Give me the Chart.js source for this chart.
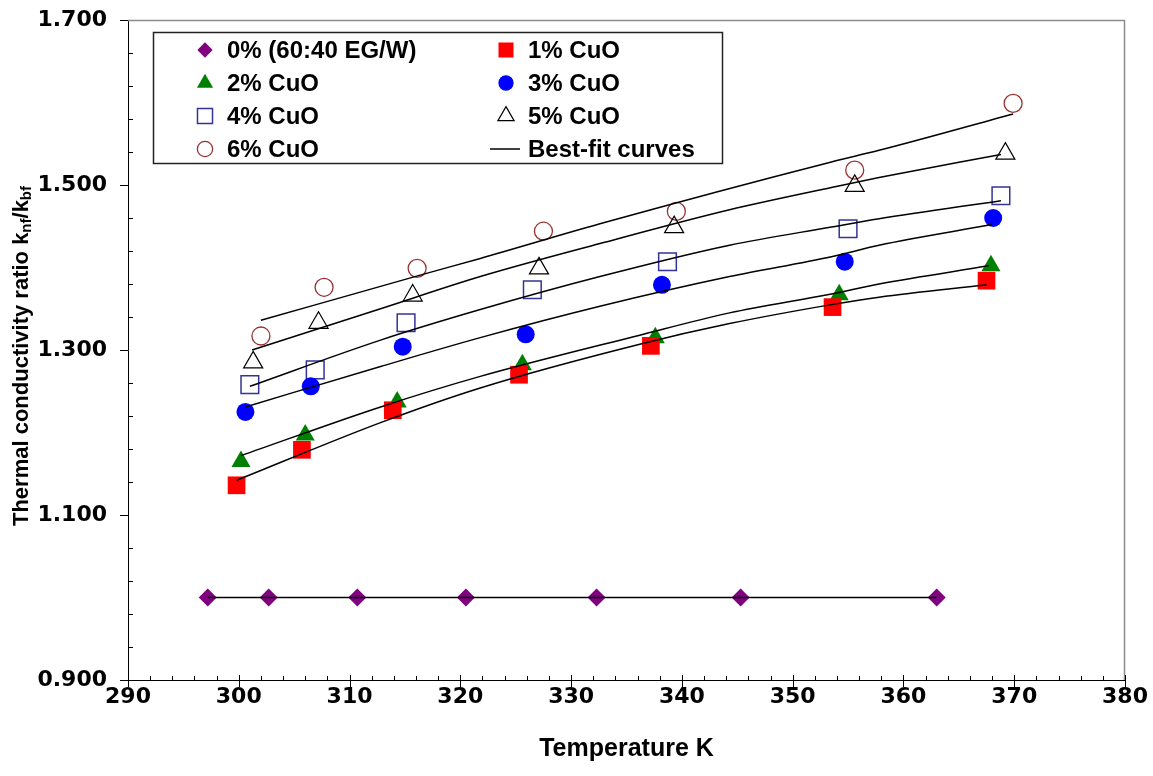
<!DOCTYPE html>
<html>
<head>
<meta charset="utf-8">
<script src="https://cdn.jsdelivr.net/npm/chart.js@4.4.1/dist/chart.umd.min.js"></script>
<style>
  html, body { margin: 0; padding: 0; background: #fff; }
  #wrap { width: 1153px; height: 776px; }
</style>
</head>
<body>
<div id="wrap"><canvas id="chart" width="1153" height="776"></canvas></div>
<script>
// ---------- Data ----------
// base fluid 60:40 EG/W
const tempBase = [297.2, 302.7, 310.7, 320.5, 332.3, 345.3, 363.0];
const ratioBase = [1.000, 1.000, 1.000, 1.000, 1.000, 1.000, 1.000];

// measured points, per CuO volume fraction
const temp1 = [299.8, 305.7, 313.9, 325.3, 337.2, 353.6, 367.5];
const ratio1 = [1.136, 1.179, 1.227, 1.270, 1.305, 1.352, 1.384];
const temp2 = [300.2, 306.0, 314.3, 325.6, 337.6, 354.2, 367.9];
const ratio2 = [1.165, 1.197, 1.237, 1.282, 1.315, 1.367, 1.402];
const temp3 = [300.6, 306.5, 314.8, 325.9, 338.2, 354.7, 368.1];
const ratio3 = [1.225, 1.256, 1.304, 1.319, 1.379, 1.407, 1.460];
const temp4 = [301.0, 306.9, 315.1, 326.5, 338.7, 355.0, 368.8];
const ratio4 = [1.258, 1.276, 1.333, 1.373, 1.407, 1.447, 1.487];
const temp5 = [301.3, 307.2, 315.7, 327.1, 339.3, 355.6, 369.2];
const ratio5 = [1.285, 1.333, 1.366, 1.399, 1.449, 1.499, 1.538];
const temp6 = [302.0, 307.7, 316.1, 327.5, 339.5, 355.6, 369.9];
const ratio6 = [1.317, 1.376, 1.399, 1.444, 1.468, 1.518, 1.599];

// best-fit curves
const fitTemp1 = [299.8, 312.8, 321.8, 336.2, 344.3, 353.5, 357.8, 367.5];
const fitRatio1 = [1.142, 1.212, 1.254, 1.307, 1.332, 1.355, 1.364, 1.379];
const fitTemp2 = [300.2, 312.8, 321.8, 336.2, 344.3, 353.5, 357.8, 367.7];
const fitRatio2 = [1.172, 1.231, 1.268, 1.318, 1.345, 1.368, 1.380, 1.402];
const fitTemp3 = [300.6, 312.8, 321.8, 332.6, 344.3, 353.5, 357.8, 368.0];
const fitRatio3 = [1.231, 1.280, 1.315, 1.353, 1.389, 1.413, 1.427, 1.452];
const fitTemp4 = [301.0, 312.8, 321.8, 332.6, 344.3, 353.5, 357.8, 368.8];
const fitRatio4 = [1.256, 1.312, 1.349, 1.389, 1.427, 1.449, 1.459, 1.481];
const fitTemp5 = [301.2, 312.8, 321.8, 332.6, 344.3, 353.5, 357.8, 368.8];
const fitRatio5 = [1.300, 1.350, 1.389, 1.429, 1.470, 1.497, 1.509, 1.537];
const fitTemp6 = [302.0, 316.7, 321.8, 332.6, 353.5, 357.8, 369.9];
const fitRatio6 = [1.336, 1.392, 1.411, 1.453, 1.528, 1.542, 1.586];

const seriesLabels = ["0% (60:40 EG/W)", "1% CuO", "2% CuO", "3% CuO", "4% CuO", "5% CuO", "6% CuO"];
const fitLabel = "Best-fit curves";

const xTicksMin = 290, xTicksMax = 380;
const yTicksMin = 0.9, yTicksMax = 1.7;

// ---------- Helpers ----------
const pts = (xs, ys) => xs.map((x, i) => ({ x: x, y: ys[i] }));

function markerSet(label, xs, ys, style, radius, fill, stroke, bw) {
  return {
    label: label,
    data: pts(xs, ys),
    showLine: false,
    pointStyle: style,
    pointRadius: radius,
    pointHoverRadius: radius,
    pointBackgroundColor: fill,
    pointBorderColor: stroke,
    pointBorderWidth: bw,
    order: 1,
  };
}

function fitSet(xs, ys) {
  return {
    label: fitLabel,
    data: pts(xs, ys),
    showLine: true,
    borderColor: "#000",
    borderWidth: 1.5,
    pointRadius: 0,
    cubicInterpolationMode: "monotone",
    order: 0,
  };
}

const markers = [
  markerSet(seriesLabels[0], tempBase, ratioBase, "rectRot", 9, "#800080", "#800080", 0),
  markerSet(seriesLabels[1], temp1, ratio1, "rect", 12.5, "#ff0000", "#ff0000", 0),
  markerSet(seriesLabels[2], temp2, ratio2, "triangle", 11, "#008000", "#008000", 0),
  markerSet(seriesLabels[3], temp3, ratio3, "circle", 9, "#0000ff", "#0000ff", 0),
  markerSet(seriesLabels[4], temp4, ratio4, "rect", 12.5, "rgba(0,0,0,0)", "#333399", 1.5),
  markerSet(seriesLabels[5], temp5, ratio5, "triangle", 11, "rgba(0,0,0,0)", "#000000", 1.2),
  markerSet(seriesLabels[6], temp6, ratio6, "circle", 9, "rgba(0,0,0,0)", "#993333", 1.3),
];

const fits = [
  fitSet(tempBase, ratioBase),
  fitSet(fitTemp1, fitRatio1),
  fitSet(fitTemp2, fitRatio2),
  fitSet(fitTemp3, fitRatio3),
  fitSet(fitTemp4, fitRatio4),
  fitSet(fitTemp5, fitRatio5),
  fitSet(fitTemp6, fitRatio6),
];

const isMajorX = (v) => Math.abs(v / 10 - Math.round(v / 10)) < 1e-6;
const isMajorY = (v) => {
  const k = (v - yTicksMin) / 0.2;
  return Math.abs(k - Math.round(k)) < 1e-6;
};

// ---------- Plugins ----------
// grey frame on top/right of plot area
const framePlugin = {
  id: "frame",
  beforeDatasetsDraw(chart) {
    const { ctx, chartArea: a } = chart;
    ctx.save();
    ctx.strokeStyle = "#8c8c8c";
    ctx.lineWidth = 1.5;
    ctx.beginPath();
    ctx.moveTo(a.left, a.top + 0.5);
    ctx.lineTo(a.right - 0.5, a.top + 0.5);
    ctx.lineTo(a.right - 0.5, a.bottom);
    ctx.stroke();
    ctx.restore();
  },
};

// major/minor tick marks like the Excel original
const tickPlugin = {
  id: "tickMarks",
  afterDraw(chart) {
    const { ctx } = chart;
    const xs = chart.scales.x, ys = chart.scales.y;
    ctx.save();
    ctx.strokeStyle = "#000";
    ctx.lineWidth = 1;
    ctx.beginPath();
    xs.ticks.forEach((t) => {
      const px = Math.round(xs.getPixelForValue(t.value)) + 0.5;
      const major = isMajorX(t.value);
      ctx.moveTo(px, xs.top - (major ? 5 : 4));
      ctx.lineTo(px, xs.top + (major ? 7 : 0));
    });
    ys.ticks.forEach((t) => {
      const py = Math.round(ys.getPixelForValue(t.value)) + 0.5;
      if (isMajorY(t.value)) {
        ctx.moveTo(ys.right - 8, py);
        ctx.lineTo(ys.right, py);
      } else {
        ctx.moveTo(ys.right, py);
        ctx.lineTo(ys.right + 5, py);
      }
    });
    ctx.stroke();
    ctx.restore();
  },
};

// y title with subscripts
const yTitlePlugin = {
  id: "yTitle",
  afterDraw(chart) {
    const { ctx } = chart;
    const big = "bold 22px 'Liberation Sans', Arial, sans-serif";
    const small = "bold 15px 'Liberation Sans', Arial, sans-serif";
    const parts = [
      { t: "Thermal conductivity ratio k", f: big, dy: 0 },
      { t: "nf", f: small, dy: 5 },
      { t: "/k", f: big, dy: 0 },
      { t: "bf", f: small, dy: 5 },
    ];
    ctx.save();
    let total = 0;
    parts.forEach((p) => { ctx.font = p.f; p.w = ctx.measureText(p.t).width; total += p.w; });
    ctx.translate(22, 356);
    ctx.rotate(-Math.PI / 2);
    ctx.fillStyle = "#000";
    ctx.textBaseline = "middle";
    let x = -total / 2;
    parts.forEach((p) => {
      ctx.font = p.f;
      ctx.fillText(p.t, x, p.dy);
      x += p.w;
    });
    ctx.restore();
  },
};

// boxed two-column legend inside the plot
const legendPlugin = {
  id: "boxLegend",
  afterDraw(chart) {
    const { ctx } = chart;
    const box = { left: 153, top: 32, right: 722, bottom: 163 };
    const rows = [50, 83, 116, 149];
    const cols = [{ mark: 205, text: 227 }, { mark: 506, text: 528 }];
    ctx.save();
    ctx.fillStyle = "#fff";
    ctx.fillRect(box.left, box.top, box.right - box.left, box.bottom - box.top);
    ctx.strokeStyle = "#222";
    ctx.lineWidth = 1.5;
    ctx.strokeRect(box.left + 0.5, box.top + 0.5, box.right - box.left, box.bottom - box.top);
    ctx.font = "bold 24px 'Liberation Sans', Arial, sans-serif";
    ctx.textBaseline = "middle";
    const entries = markers.map((d) => d).concat([null]);
    entries.forEach((d, i) => {
      const row = rows[Math.floor(i / 2)];
      const col = cols[i % 2];
      if (d) {
        const r = d.pointRadius * 0.85;
        ctx.fillStyle = d.pointBackgroundColor;
        ctx.strokeStyle = d.pointBorderColor;
        ctx.lineWidth = d.pointBorderWidth;
        Chart.helpers.drawPoint(ctx, { pointStyle: d.pointStyle, radius: r, rotation: 0, borderWidth: d.pointBorderWidth }, col.mark, row);
      } else {
        ctx.strokeStyle = "#000";
        ctx.lineWidth = 1.5;
        ctx.beginPath();
        ctx.moveTo(col.mark - 16, row);
        ctx.lineTo(col.mark + 14, row);
        ctx.stroke();
      }
      ctx.fillStyle = "#000";
      ctx.fillText(d ? d.label : fitLabel, col.text, row + 1);
    });
    ctx.restore();
  },
};

// ---------- Chart ----------
const tickFont = { family: "'DejaVu Sans', sans-serif", size: 22, weight: "bold" };

new Chart(document.getElementById("chart"), {
  type: "scatter",
  data: { datasets: fits.concat(markers) },
  options: {
    responsive: false,
    animation: false,
    devicePixelRatio: 1,
    layout: { padding: { top: 20, right: 28, left: 0, bottom: 0 } },
    plugins: {
      legend: { display: false },
      tooltip: { enabled: false },
    },
    scales: {
      x: {
        type: "linear",
        min: xTicksMin,
        max: xTicksMax,
        afterFit: (s) => { s.height = 96; s.paddingLeft = 0; s.paddingRight = 0; },
        grid: { display: false, drawTicks: false },
        border: { display: true, color: "#000", width: 1 },
        ticks: {
          stepSize: 2,
          autoSkip: false,
          maxRotation: 0,
          padding: 4,
          color: "#000",
          font: tickFont,
          callback: (v) => (isMajorX(v) ? String(Math.round(v)) : ""),
        },
        title: {
          display: true,
          text: "Temperature K",
          color: "#000",
          font: { family: "'Liberation Sans', Arial, sans-serif", size: 25, weight: "bold" },
          padding: { top: 0, bottom: 12 },
        },
      },
      y: {
        type: "linear",
        min: yTicksMin,
        max: yTicksMax,
        afterFit: (s) => { s.width = 128; s.paddingTop = 0; s.paddingBottom = 0; },
        grid: { display: false, drawTicks: false },
        border: { display: true, color: "#000", width: 1 },
        ticks: {
          stepSize: 0.04,
          autoSkip: false,
          padding: 21,
          color: "#000",
          font: tickFont,
          callback: (v) => (isMajorY(v) ? Number(v).toFixed(3) : ""),
        },
      },
    },
  },
  plugins: [framePlugin, tickPlugin, yTitlePlugin, legendPlugin],
});
</script>
</body>
</html>
